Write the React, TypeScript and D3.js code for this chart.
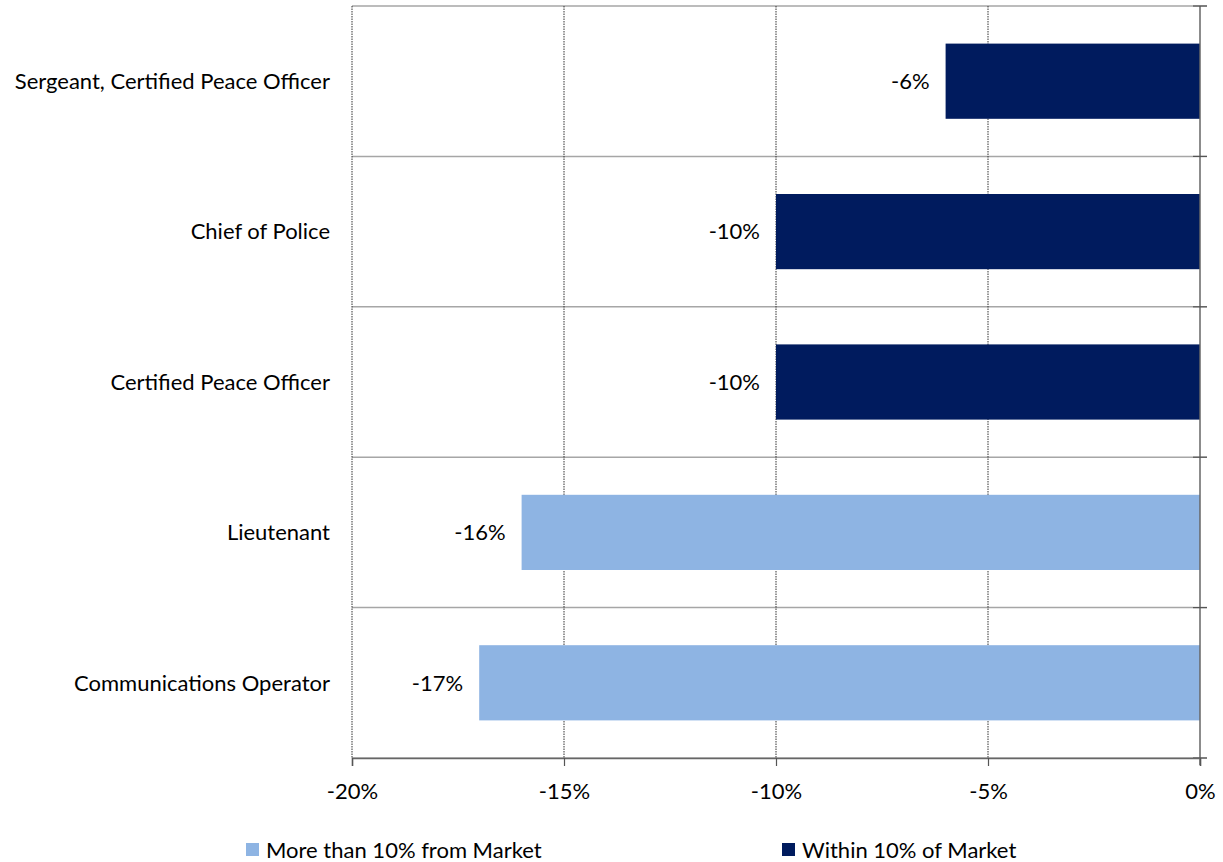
import React, { useEffect, useRef } from 'react';
import * as d3 from 'd3';

const categories = [
  'Sergeant, Certified Peace Officer',
  'Chief of Police',
  'Certified Peace Officer',
  'Lieutenant',
  'Communications Operator',
];
const values = [-6, -10, -10, -16, -17];
const groups = ['within', 'within', 'within', 'more', 'more'];
const xTicks = [-20, -15, -10, -5, 0];
const legendItems = [
  { key: 'more', label: 'More than 10% from Market' },
  { key: 'within', label: 'Within 10% of Market' },
];

const colors: Record<string, string> = { more: '#8EB4E3', within: '#001B5E' };

const App: React.FC = () => {
  const svgRef = useRef<SVGSVGElement>(null);

  useEffect(() => {
    if (!svgRef.current) return;
    const svg = d3.select(svgRef.current);
    svg.selectAll('*').remove();

    const font = 'Lato, "Open Sans", sans-serif';
    const fs = 22;
    const left = 352, right = 1200, top = 6, bottom = 758;

    const x = d3.scaleLinear().domain([-20, 0]).range([left, right]);
    const y = d3.scaleBand<string>().domain(categories).range([top, bottom]).paddingInner(0.5).paddingOuter(0.25);
    const band = d3.scaleBand<string>().domain(categories).range([top, bottom]);

    // category separators
    const seps = [top, ...categories.map(c => (band(c) as number) + band.bandwidth())];
    svg.append('g').selectAll('line').data(seps).enter().append('line')
      .attr('x1', left).attr('x2', right + 7)
      .attr('y1', d => d).attr('y2', d => d)
      .attr('stroke', '#a6a6a6').attr('stroke-width', 1.5);

    // vertical gridlines
    svg.append('g').selectAll('line').data(xTicks.filter(t => t !== 0)).enter().append('line')
      .attr('x1', d => x(d)).attr('x2', d => x(d))
      .attr('y1', top).attr('y2', bottom)
      .attr('stroke', '#333').attr('stroke-width', 1).attr('stroke-dasharray', '1.5,1');

    // bars
    svg.append('g').selectAll('rect').data(categories).enter().append('rect')
      .attr('x', (_, i) => x(values[i]))
      .attr('width', (_, i) => x(0) - x(values[i]))
      .attr('y', d => y(d) as number)
      .attr('height', y.bandwidth())
      .attr('fill', (_, i) => colors[groups[i]]);

    // value labels
    svg.append('g').selectAll('text').data(categories).enter().append('text')
      .attr('x', (_, i) => x(values[i]) - 16)
      .attr('y', d => (y(d) as number) + y.bandwidth() / 2)
      .attr('dy', '0.35em')
      .attr('text-anchor', 'end')
      .attr('font-family', font).attr('font-size', fs).attr('fill', '#000')
      .text((_, i) => `${values[i]}%`);

    // category labels
    svg.append('g').selectAll('text').data(categories).enter().append('text')
      .attr('x', 330)
      .attr('y', d => (band(d) as number) + band.bandwidth() / 2)
      .attr('dy', '0.35em')
      .attr('text-anchor', 'end')
      .attr('font-family', font).attr('font-size', fs).attr('fill', '#000')
      .text(d => d);

    // y axis at zero with ticks to the right
    svg.append('line')
      .attr('x1', x(0)).attr('x2', x(0)).attr('y1', top).attr('y2', bottom + 7)
      .attr('stroke', '#666').attr('stroke-width', 1.5);
    svg.append('g').selectAll('line').data(seps).enter().append('line')
      .attr('x1', x(0) - 7).attr('x2', x(0) + 7)
      .attr('y1', d => d).attr('y2', d => d)
      .attr('stroke', '#555').attr('stroke-width', 1.2);

    // x axis
    const xAxis = svg.append('g')
      .attr('transform', `translate(0,${bottom})`)
      .call(d3.axisBottom(x).tickValues(xTicks).tickSize(8).tickPadding(17).tickFormat(d => `${d}%`));
    xAxis.select('.domain').attr('stroke', '#666').attr('stroke-width', 1.5);
    xAxis.selectAll('.tick line').attr('stroke', '#555').attr('stroke-width', 1.2);
    xAxis.selectAll('.tick text')
      .attr('font-family', font).attr('font-size', fs).attr('fill', '#000');

    // legend
    const legendX = [246, 782];
    const lg = svg.append('g').selectAll('g').data(legendItems).enter().append('g')
      .attr('transform', (_, i) => `translate(${legendX[i]},843)`);
    lg.append('rect').attr('width', 13).attr('height', 13).attr('fill', d => colors[d.key]);
    lg.append('text').attr('x', 20).attr('y', 7).attr('dy', '0.35em')
      .attr('font-family', font).attr('font-size', fs).attr('fill', '#000')
      .text(d => d.label);
  }, []);

  return (
    <svg ref={svgRef} width={1223} height={862}
      style={{ position: 'absolute', left: 0, top: 0, background: '#fff' }} />
  );
};

export default App;
